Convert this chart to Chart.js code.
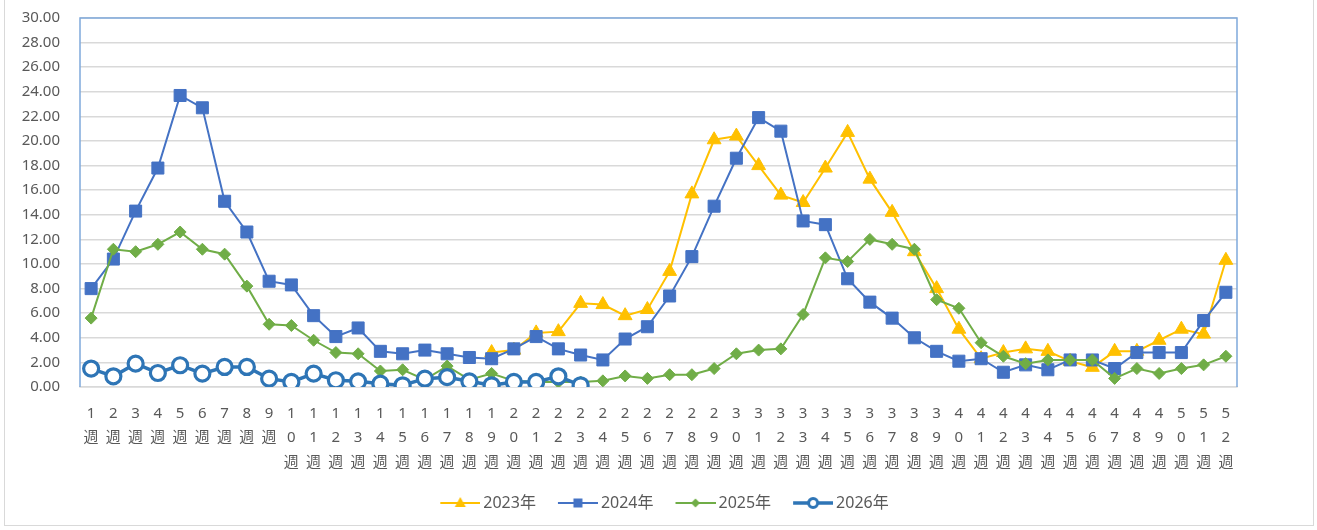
<!DOCTYPE html>
<html>
<head>
<meta charset="utf-8">
<script src="https://cdn.jsdelivr.net/npm/chart.js@4/dist/chart.umd.min.js"></script>
<style>
  html, body { margin: 0; padding: 0; background: #fff; }
  #wrap { position: relative; width: 1317px; height: 530px; }
  #frame { position: absolute; left: 4px; top: -2px; width: 1310px; height: 528px; border: 1.5px solid #d9d9d9; box-sizing: border-box; pointer-events: none; }
</style>
</head>
<body>
<div id="wrap">
  <canvas id="myChart" width="1317" height="530"></canvas>
  <div id="frame"></div>
</div>
<script>
// weeks 1..52
const weeks = []
for (let i = 1; i <= 52; i++) weeks.push(i + '週')

const seriesNames = ['2023年', '2024年', '2025年', '2026年']

const y2023 = [null, null, null, null, null, null, null, null, null, null,
  null, null, null, null, null, null, null, null, 2.8, 3.0,
  4.4, 4.5, 6.8, 6.7, 5.8, 6.3, 9.4, 15.7, 20.1, 20.4,
  18.0, 15.6, 15.0, 17.8, 20.7, 16.9, 14.2, 11.0, 8.0, 4.7,
  2.3, 2.8, 3.1, 2.9, 2.1, 1.6, 2.9, 2.9, 3.8, 4.7,
  4.3, 10.3]

const y2024 = [8.0, 10.4, 14.3, 17.8, 23.7, 22.7, 15.1, 12.6, 8.6, 8.3,
  5.8, 4.1, 4.8, 2.9, 2.7, 3.0, 2.7, 2.4, 2.3, 3.1,
  4.1, 3.1, 2.6, 2.2, 3.9, 4.9, 7.4, 10.6, 14.7, 18.6,
  21.9, 20.8, 13.5, 13.2, 8.8, 6.9, 5.6, 4.0, 2.9, 2.1,
  2.3, 1.2, 1.8, 1.4, 2.2, 2.2, 1.5, 2.8, 2.8, 2.8,
  5.4, 7.7]

const y2025 = [5.6, 11.2, 11.0, 11.6, 12.6, 11.2, 10.8, 8.2, 5.1, 5.0,
  3.8, 2.8, 2.7, 1.3, 1.4, 0.6, 1.7, 0.6, 1.1, 0.5,
  0.4, 0.4, 0.4, 0.5, 0.9, 0.7, 1.0, 1.0, 1.5, 2.7,
  3.0, 3.1, 5.9, 10.5, 10.2, 12.0, 11.6, 11.2, 7.1, 6.4,
  3.6, 2.5, 1.9, 2.2, 2.2, 2.2, 0.7, 1.5, 1.1, 1.5,
  1.8, 2.5]

const y2026 = [1.5, 0.87, 1.9, 1.14, 1.77, 1.09, 1.63, 1.63, 0.68, 0.41,
  1.09, 0.55, 0.46, 0.27, 0.14, 0.68, 0.8, 0.46, 0.14, 0.41,
  0.41, 0.87, 0.14]

const yTicks = { min: 0, max: 30, step: 2 }

const textColor = '#595959'
const fontFam = "'Noto Sans', 'Noto Sans CJK JP', sans-serif"

// legend icon: short line with the marker in the middle
// (blank space on the left gives the gap between legend items)
function legendIcon(color, style, lineWidth, fill){
    let c = document.createElement('canvas')
    c.width = 57
    c.height = 18
    let g = c.getContext('2d')
    let cx = 37
    g.strokeStyle = color
    g.lineWidth = lineWidth
    g.beginPath()
    g.moveTo(17, 9)
    g.lineTo(57, 9)
    g.stroke()
    g.fillStyle = fill
    g.beginPath()
    if (style === 'triangle') {
        g.moveTo(cx, 3); g.lineTo(cx + 5.5, 13); g.lineTo(cx - 5.5, 13); g.closePath(); g.fill()
    } else if (style === 'rect') {
        g.rect(cx - 4.5, 4.5, 9, 9); g.fill()
    } else if (style === 'rectRot') {
        g.moveTo(cx, 4.5); g.lineTo(cx + 4.5, 9); g.lineTo(cx, 13.5); g.lineTo(cx - 4.5, 9); g.closePath(); g.fill()
    } else {
        g.arc(cx, 9, 4.5, 0, Math.PI * 2); g.fillStyle = '#fff'; g.fill()
        g.lineWidth = 3; g.strokeStyle = color; g.stroke()
    }
    return c
}

const icons = [
    legendIcon('#FFC000', 'triangle', 2, '#FFC000'),
    legendIcon('#4472C4', 'rect', 2, '#4472C4'),
    legendIcon('#70AD47', 'rectRot', 2, '#70AD47'),
    legendIcon('#2E75B6', 'circle', 3.5, '#fff')
]

// plot area frame (top / left / right in light blue)
const frame = {
    id: 'frame',
    beforeDatasetsDraw(chart){
        const a = chart.chartArea
        const ctx = chart.ctx
        ctx.save()
        ctx.strokeStyle = '#7FA9DB'
        ctx.lineWidth = 1.5
        ctx.beginPath()
        ctx.moveTo(a.left, a.bottom)
        ctx.lineTo(a.left, a.top)
        ctx.lineTo(a.right, a.top)
        ctx.lineTo(a.right, a.bottom)
        ctx.stroke()
        ctx.restore()
    }
}

var ctx = document.getElementById('myChart').getContext('2d')
var myChart = new Chart(ctx, {
    type: 'line',
    data: {
        labels: weeks,
        datasets: [{
            label: seriesNames[0],
            data: y2023,
            borderColor: '#FFC000',
            backgroundColor: '#FFC000',
            borderWidth: 2,
            pointStyle: 'triangle',
            pointRadius: 8,
            pointBorderWidth: 1,
            order: 4
        }, {
            label: seriesNames[1],
            data: y2024,
            borderColor: '#4472C4',
            backgroundColor: '#4472C4',
            borderWidth: 2,
            pointStyle: 'rect',
            pointRadius: 8.5,
            pointBorderWidth: 1,
            order: 3
        }, {
            label: seriesNames[2],
            data: y2025,
            borderColor: '#70AD47',
            backgroundColor: '#70AD47',
            borderWidth: 2,
            pointStyle: 'rectRot',
            pointRadius: 6,
            pointBorderWidth: 1,
            order: 2
        }, {
            label: seriesNames[3],
            data: y2026,
            borderColor: '#2E75B6',
            backgroundColor: '#ffffff',
            borderWidth: 3.5,
            pointStyle: 'circle',
            pointRadius: 7.5,
            pointBorderWidth: 3.2,
            order: 1
        }]
    },
    options: {
        responsive: false,
        animation: false,
        spanGaps: false,
        layout: { padding: { left: 0, right: 0, top: 18, bottom: 9 } },
        plugins: {
            tooltip: { enabled: false },
            legend: {
                position: 'bottom',
                labels: {
                    usePointStyle: true,
                    pointStyleWidth: 47,
                    padding: 10,
                    color: textColor,
                    font: { family: fontFam, size: 16 },
                    generateLabels(chart){
                        return chart.data.datasets.map(function(ds, i){
                            return {
                                text: ds.label,
                                pointStyle: icons[i],
                                fontColor: textColor,
                                strokeStyle: ds.borderColor,
                                fillStyle: ds.backgroundColor,
                                lineWidth: 0,
                                hidden: false,
                                datasetIndex: i
                            }
                        })
                    }
                }
            }
        },
        scales: {
            x: {
                offset: true,
                grid: { display: false, drawTicks: false },
                border: { color: '#d9d9d9', width: 1.5 },
                afterFit(scale){
                    scale.height = 98
                    scale.paddingLeft = 0
                    scale.paddingRight = 0
                },
                ticks: {
                    autoSkip: false,
                    maxRotation: 0,
                    minRotation: 0,
                    padding: 14,
                    color: textColor,
                    font: { family: fontFam, size: 15, lineHeight: 1.64 },
                    callback(value){
                        return weeks[value].split('')
                    }
                }
            },
            y: {
                min: yTicks.min,
                max: yTicks.max,
                grid: { color: '#d9d9d9', lineWidth: 1.5, drawTicks: false },
                border: { display: false },
                afterFit(scale){
                    scale.width = 80
                    scale.paddingTop = 0
                    scale.paddingBottom = 0
                },
                ticks: {
                    stepSize: yTicks.step,
                    padding: 20,
                    color: textColor,
                    font: { family: fontFam, size: 15 },
                    callback(v){ return v.toFixed(2) }
                }
            },
            // empty space right of the plot
            yRight: {
                position: 'right',
                min: yTicks.min,
                max: yTicks.max,
                grid: { display: false, drawTicks: false },
                border: { display: false },
                ticks: { display: false },
                afterFit(scale){
                    scale.width = 80
                    scale.paddingTop = 0
                    scale.paddingBottom = 0
                }
            }
        }
    },
    plugins: [frame]
})
</script>
</body>
</html>
